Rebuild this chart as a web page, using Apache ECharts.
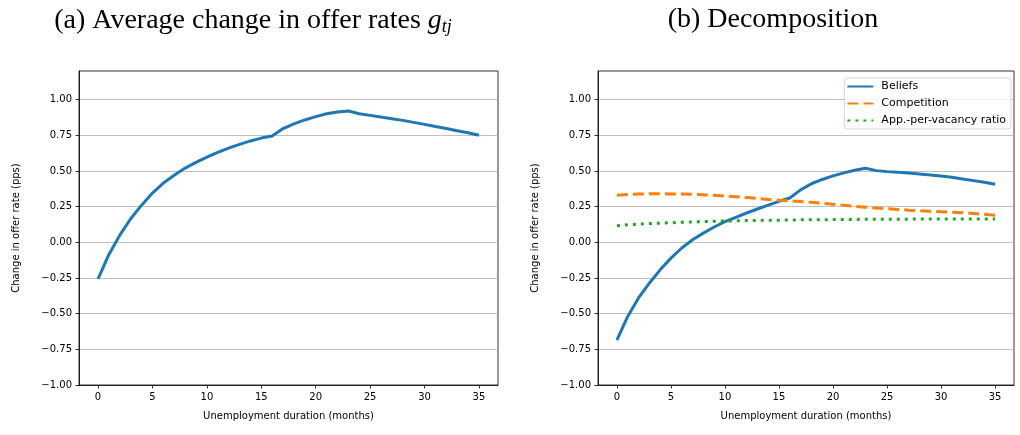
<!DOCTYPE html>
<html>
<head>
<meta charset="UTF-8">
<script src="https://cdn.jsdelivr.net/npm/echarts@6/dist/echarts.min.js"></script>
<style>
  html, body { margin: 0; padding: 0; background: #fff; }
  #chart { width: 1020px; height: 435px; }
</style>
</head>
<body>
<div id="chart"></div>
<script>
// months of unemployment
var months = [];
for (var i = 0; i <= 35; i++) months.push(i);

// (a) average change in offer rates
var avgChange = [-0.256, -0.085, 0.05, 0.165, 0.26, 0.345, 0.415, 0.47, 0.52, 0.56,
  0.597, 0.63, 0.66, 0.686, 0.71, 0.73, 0.745, 0.797, 0.83, 0.857,
  0.88, 0.90, 0.913, 0.92, 0.90, 0.889, 0.877, 0.866, 0.854, 0.84,
  0.826, 0.811, 0.797, 0.782, 0.767, 0.75];

// (b) decomposition
var beliefs = [-0.685, -0.52, -0.39, -0.287, -0.193, -0.111, -0.04, 0.018, 0.064, 0.107,
  0.144, 0.175, 0.205, 0.233, 0.26, 0.287, 0.31, 0.367, 0.41, 0.44,
  0.465, 0.486, 0.505, 0.519, 0.502, 0.495, 0.49, 0.486, 0.479, 0.472,
  0.465, 0.456, 0.444, 0.432, 0.42, 0.406];
var competition = [0.329, 0.335, 0.338, 0.34, 0.34, 0.339, 0.338, 0.336, 0.333, 0.329,
  0.324, 0.319, 0.313, 0.307, 0.30, 0.295, 0.29, 0.285, 0.28, 0.273,
  0.266, 0.259, 0.252, 0.246, 0.24, 0.235, 0.23, 0.225, 0.221, 0.217,
  0.214, 0.21, 0.207, 0.202, 0.196, 0.19];
var appVac = [0.116, 0.122, 0.127, 0.131, 0.134, 0.137, 0.140, 0.142, 0.145, 0.147,
  0.149, 0.150, 0.152, 0.153, 0.154, 0.155, 0.156, 0.157, 0.158, 0.158,
  0.159, 0.160, 0.160, 0.161, 0.161, 0.162, 0.162, 0.162, 0.163, 0.163,
  0.163, 0.163, 0.163, 0.163, 0.163, 0.163];

var xTicks = [0, 5, 10, 15, 20, 25, 30, 35];
var yTicks = [-1, -0.75, -0.5, -0.25, 0, 0.25, 0.5, 0.75, 1];

function pairs(ys) {
  return months.map(function (m, i) { return [m, ys[i]]; });
}
function fmtY(v) {
  return (v < 0 ? '\u2212' : '') + Math.abs(v).toFixed(2);
}

var font = 'DejaVu Sans';
var serif = 'Liberation Serif';
var axisText = { fontFamily: font, fontSize: 10, color: '#000' };

function xAxis(idx) {
  return {
    gridIndex: idx, type: 'value', min: -1.75, max: 36.75,
    name: 'Unemployment duration (months)', nameLocation: 'middle', nameGap: 26,
    nameTextStyle: axisText,
    axisLine: { onZero: false, lineStyle: { color: '#000', width: 0.8 } },
    axisTick: { customValues: xTicks, length: 3.5, lineStyle: { color: '#000', width: 0.8 } },
    axisLabel: Object.assign({ customValues: xTicks, margin: 7 }, axisText),
    splitLine: { show: false }
  };
}
function yAxis(idx) {
  return {
    gridIndex: idx, type: 'value', min: -1, max: 1.2,
    name: 'Change in offer rate (pps)', nameLocation: 'middle', nameGap: 58,
    nameTextStyle: axisText,
    axisLine: { onZero: false, lineStyle: { color: '#000', width: 0.8 } },
    axisTick: { customValues: yTicks, length: 3.5, lineStyle: { color: '#000', width: 0.8 } },
    axisLabel: Object.assign({ customValues: yTicks, margin: 7, formatter: fmtY }, axisText),
    splitLine: { show: true, lineStyle: { color: '#b0b0b0', width: 0.8 } }
  };
}

var chart = echarts.init(document.getElementById('chart'), null, { renderer: 'canvas' });
chart.setOption({
  backgroundColor: '#fff',
  animation: false,
  title: [
    {
      text: '(a) Average change in offer rates {g|g}{s|tj}',
      left: 253, top: 6, padding: 0, textAlign: 'center',
      textStyle: {
        fontFamily: serif, fontSize: 28, fontWeight: 'normal', color: '#000',
        rich: {
          g: { fontFamily: serif, fontStyle: 'italic', fontSize: 28 },
          s: { fontFamily: serif, fontStyle: 'italic', fontSize: 18, padding: [12, 0, 0, 0] }
        }
      }
    },
    {
      text: '(b) Decomposition',
      left: 773, top: 6, padding: 0, textAlign: 'center',
      textStyle: { fontFamily: serif, fontSize: 28, fontWeight: 'normal', color: '#000' }
    }
  ],
  legend: {
    orient: 'vertical', right: 9, top: 78,
    itemWidth: 26, itemHeight: 10, itemGap: 6,
    padding: [3, 5, 3, 2],
    backgroundColor: 'rgba(255,255,255,0.8)',
    borderColor: '#cccccc', borderWidth: 0.8, borderRadius: 3,
    itemStyle: { opacity: 0 },
    textStyle: { fontFamily: font, fontSize: 11, color: '#000', padding: [0, 0, 0, 3] },
    data: ['Beliefs', 'Competition', 'App.-per-vacancy ratio']
  },
  grid: [
    { left: 79, right: 522, top: 71, bottom: 50, show: true, borderColor: '#000', borderWidth: 0.8 },
    { left: 598, right: 6, top: 71, bottom: 50, show: true, borderColor: '#000', borderWidth: 0.8 }
  ],
  xAxis: [xAxis(0), xAxis(1)],
  yAxis: [yAxis(0), yAxis(1)],
  series: [
    {
      name: 'g', type: 'line', xAxisIndex: 0, yAxisIndex: 0, data: pairs(avgChange),
      showSymbol: false, lineStyle: { color: '#1f77b4', width: 3 }, itemStyle: { color: '#1f77b4' }
    },
    {
      name: 'Beliefs', type: 'line', xAxisIndex: 1, yAxisIndex: 1, data: pairs(beliefs),
      showSymbol: false, symbol: 'none', lineStyle: { color: '#1f77b4', width: 3 }, itemStyle: { color: '#1f77b4' }
    },
    {
      name: 'Competition', type: 'line', xAxisIndex: 1, yAxisIndex: 1, data: pairs(competition),
      showSymbol: false, symbol: 'none', itemStyle: { color: '#ff7f0e' },
      lineStyle: { color: '#ff7f0e', width: 3, type: [11, 5] }
    },
    {
      name: 'App.-per-vacancy ratio', type: 'line', xAxisIndex: 1, yAxisIndex: 1, data: pairs(appVac),
      showSymbol: false, symbol: 'none', itemStyle: { color: '#2ca02c' },
      lineStyle: { color: '#2ca02c', width: 3, type: [3, 5] }
    }
  ]
});
</script>
</body>
</html>
